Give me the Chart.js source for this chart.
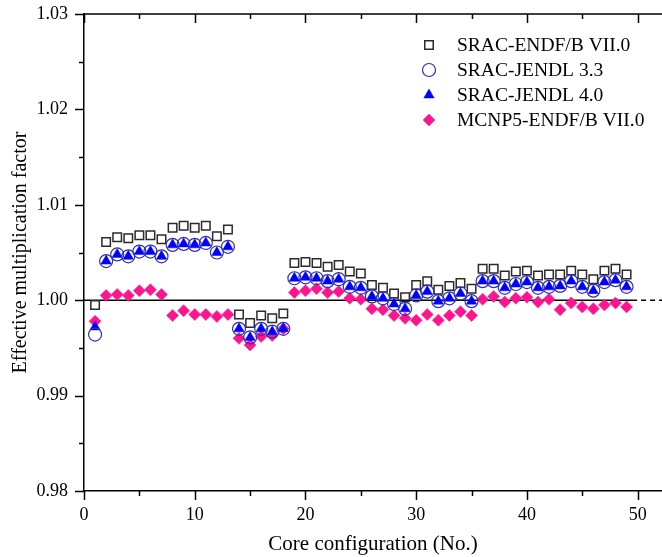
<!DOCTYPE html>
<html lang="en">
<head>
    <meta charset="UTF-8">
    <title>Effective multiplication factor by core configuration</title>
    <script src="https://cdn.jsdelivr.net/npm/chart.js"></script>
    <style>
        body {
            margin: 0;
            background-color: #fff;
        }
        #wrap {
            width: 662px;
            height: 557px;
        }
    </style>
</head>
<body>
    <div id="wrap"><canvas id="kChart" width="662" height="557"></canvas></div>

    <script>
        // core configuration numbers
        const cores = [1, 2, 3, 4, 5, 6, 7, 8, 9, 10, 11, 12, 13, 14, 15, 16, 17, 18, 19, 20,
            21, 22, 23, 24, 25, 26, 27, 28, 29, 30, 31, 32, 33, 34, 35, 36, 37, 38, 39, 40,
            41, 42, 43, 44, 45, 46, 47, 48, 49];

        // keff values
        const sracEndf = [0.9995, 1.0061, 1.0066, 1.0065, 1.0068, 1.0068, 1.0064, 1.0076, 1.0078, 1.0076,
            1.0078, 1.0067, 1.0074, 0.9985, 0.9976, 0.9984, 0.9981, 0.9986, 1.0039, 1.0040,
            1.0039, 1.0035, 1.0037, 1.0030, 1.0028, 1.0016, 1.0013, 1.0007, 1.0003, 1.0016,
            1.0020, 1.0011, 1.0015, 1.0018, 1.0012, 1.0033, 1.0033, 1.0026, 1.0030, 1.0031,
            1.0026, 1.0027, 1.0027, 1.0031, 1.0027, 1.0022, 1.0031, 1.0033, 1.0027];
        const sracJendl33 = [0.9964, 1.0041, 1.0048, 1.0046, 1.0051, 1.0051, 1.0046, 1.0058, 1.0059, 1.0058,
            1.0060, 1.0050, 1.0056, 0.9970, 0.9961, 0.9970, 0.9967, 0.9970, 1.0023, 1.0024,
            1.0023, 1.0020, 1.0022, 1.0014, 1.0013, 1.0004, 1.0002, 0.9996, 0.9991, 1.0005,
            1.0009, 0.9999, 1.0002, 1.0007, 0.9999, 1.0020, 1.0020, 1.0013, 1.0017, 1.0019,
            1.0013, 1.0014, 1.0015, 1.0020, 1.0014, 1.0010, 1.0019, 1.0021, 1.0014];
        const sracJendl40 = [0.9972, 1.0041, 1.0048, 1.0046, 1.0051, 1.0051, 1.0046, 1.0058, 1.0059, 1.0058,
            1.0060, 1.0050, 1.0056, 0.9970, 0.9961, 0.9970, 0.9967, 0.9970, 1.0023, 1.0024,
            1.0023, 1.0020, 1.0022, 1.0014, 1.0013, 1.0004, 1.0002, 0.9996, 0.9991, 1.0005,
            1.0009, 0.9999, 1.0002, 1.0007, 0.9999, 1.0020, 1.0020, 1.0013, 1.0017, 1.0019,
            1.0013, 1.0014, 1.0015, 1.0020, 1.0014, 1.0010, 1.0019, 1.0021, 1.0014];
        const mcnpEndf = [0.9978, 1.0005, 1.0006, 1.0005, 1.0010, 1.0011, 1.0006, 0.9984, 0.9989, 0.9985,
            0.9985, 0.9983, 0.9985, 0.9960, 0.9953, 0.9962, 0.9963, 0.9970, 1.0008, 1.0010,
            1.0012, 1.0008, 1.0009, 1.0002, 1.0001, 0.9991, 0.9990, 0.9984, 0.9981, 0.9979,
            0.9985, 0.9979, 0.9984, 0.9988, 0.9984, 1.0001, 1.0004, 0.9998, 1.0002, 1.0003,
            0.9998, 1.0001, 0.9990, 0.9997, 0.9993, 0.9991, 0.9995, 0.9997, 0.9993];

        const seriesNames = ['SRAC-ENDF/B VII.0', 'SRAC-JENDL 3.3', 'SRAC-JENDL 4.0', 'MCNP5-ENDF/B VII.0'];

        // axis ranges and ticks
        const xMin = 0, xMax = 52.2;
        const yMin = 0.98, yMax = 1.03;
        const xTickValues = [0, 5, 10, 15, 20, 25, 30, 35, 40, 45, 50];
        const yTickValues = [0.98, 0.985, 0.99, 0.995, 1.00, 1.005, 1.01, 1.015, 1.02, 1.025, 1.03];
        const refLevel = 1.00;
        const refSolidEnd = 49.5;

        const serif = 'Liberation Serif, Times New Roman, serif';

        const toPoints = (vals) => vals.map((v, i) => ({ x: cores[i], y: v }));

        // small tick marks on the axes + top frame line
        const axisTicks = {
            id: 'axisTicks',
            afterDatasetsDraw(chart) {
                const { ctx, chartArea: a, scales: { x, y } } = chart;
                ctx.save();
                ctx.strokeStyle = '#000';
                ctx.lineWidth = 1.5;
                ctx.beginPath();
                ctx.moveTo(a.left, a.top);
                ctx.lineTo(a.right, a.top);
                xTickValues.forEach(v => {
                    const px = Math.round(x.getPixelForValue(v)) + 0.5;
                    const len = v % 10 === 0 ? 9 : 5;
                    ctx.moveTo(px, a.bottom);
                    ctx.lineTo(px, a.bottom + len);
                    ctx.moveTo(px, a.top);
                    ctx.lineTo(px, a.top + len);
                });
                yTickValues.forEach((v, i) => {
                    const py = Math.round(y.getPixelForValue(v)) + 0.5;
                    const len = i % 2 === 0 ? 9 : 5;
                    ctx.moveTo(a.left, py);
                    ctx.lineTo(a.left - len, py);
                });
                ctx.stroke();
                ctx.restore();
            }
        };

        // legend inside the plot, top right
        const insideLegend = {
            id: 'insideLegend',
            afterDraw(chart) {
                const { ctx } = chart;
                ctx.save();
                ctx.font = '19.5px ' + serif;
                ctx.textBaseline = 'middle';
                ctx.fillStyle = '#000';
                [0, 1, 2, 3].forEach((idx, row) => {
                    const ds = chart.data.datasets[idx];
                    const cy = 45 + row * 25;
                    ctx.save();
                    ctx.fillStyle = ds.pointBackgroundColor;
                    ctx.strokeStyle = ds.pointBorderColor;
                    ctx.lineWidth = ds.pointBorderWidth;
                    Chart.helpers.drawPoint(ctx, {
                        pointStyle: ds.pointStyle,
                        radius: ds.pointRadius,
                        rotation: 0,
                        borderWidth: ds.pointBorderWidth
                    }, 429, cy);
                    ctx.restore();
                    ctx.fillText(seriesNames[idx], 457, cy + 1);
                });
                ctx.restore();
            }
        };

        const ctx = document.getElementById('kChart').getContext('2d');
        const kChart = new Chart(ctx, {
            type: 'scatter',
            data: {
                datasets: [
                    {
                        label: seriesNames[0],
                        data: toPoints(sracEndf),
                        pointStyle: 'rect',
                        pointRadius: 6,
                        pointBackgroundColor: 'rgba(255,255,255,0)',
                        pointBorderColor: '#2b2b2b',
                        pointBorderWidth: 1.5,
                        order: 3
                    },
                    {
                        label: seriesNames[1],
                        data: toPoints(sracJendl33),
                        pointStyle: 'circle',
                        pointRadius: 6.5,
                        pointBackgroundColor: 'rgba(255,255,255,0)',
                        pointBorderColor: '#3030b0',
                        pointBorderWidth: 1.2,
                        order: 1
                    },
                    {
                        label: seriesNames[2],
                        data: toPoints(sracJendl40),
                        pointStyle: 'triangle',
                        pointRadius: 6,
                        pointBackgroundColor: '#0000ff',
                        pointBorderColor: '#0000ff',
                        pointBorderWidth: 0.5,
                        order: 2
                    },
                    {
                        label: seriesNames[3],
                        data: toPoints(mcnpEndf),
                        pointStyle: 'rectRot',
                        pointRadius: 6,
                        pointBackgroundColor: '#ff1490',
                        pointBorderColor: '#ff1490',
                        pointBorderWidth: 0.5,
                        order: 4
                    },
                    {
                        label: 'ref',
                        type: 'line',
                        data: [{ x: xMin, y: refLevel }, { x: refSolidEnd, y: refLevel }],
                        borderColor: '#000',
                        borderWidth: 1.5,
                        pointRadius: 0,
                        order: 5
                    },
                    {
                        label: 'ref dashed',
                        type: 'line',
                        data: [{ x: refSolidEnd, y: refLevel }, { x: xMax, y: refLevel }],
                        borderColor: '#000',
                        borderWidth: 1.5,
                        borderDash: [5, 4],
                        pointRadius: 0,
                        order: 5
                    }
                ]
            },
            options: {
                responsive: false,
                animation: false,
                devicePixelRatio: 1,
                layout: { autoPadding: false, padding: { top: 14, left: 0, right: 0, bottom: 0 } },
                plugins: {
                    legend: { display: false },
                    tooltip: { enabled: false }
                },
                scales: {
                    x: {
                        type: 'linear',
                        min: xMin,
                        max: xMax,
                        afterFit: (s) => { s.height = 66; s.paddingRight = 0; s.paddingLeft = 0; },
                        border: { display: true, color: '#000', width: 1.5 },
                        grid: { display: false, drawTicks: true, tickLength: 9 },
                        ticks: {
                            stepSize: 10,
                            includeBounds: false,
                            padding: 4,
                            color: '#000',
                            font: { family: serif, size: 18 }
                        },
                        title: {
                            display: true,
                            text: 'Core configuration (No.)',
                            color: '#000',
                            font: { family: serif, size: 21 },
                            padding: { top: 0, bottom: 0 }
                        }
                    },
                    y: {
                        min: yMin,
                        max: yMax,
                        afterFit: (s) => { s.width = 84; s.paddingTop = 0; s.paddingBottom = 0; },
                        border: { display: true, color: '#000', width: 1.5 },
                        grid: { display: false, drawTicks: true, tickLength: 9 },
                        ticks: {
                            stepSize: 0.01,
                            padding: 7,
                            color: '#000',
                            font: { family: serif, size: 18 },
                            callback: (v) => Number(v).toFixed(2)
                        },
                        title: {
                            display: true,
                            text: 'Effective multiplication factor',
                            color: '#000',
                            font: { family: serif, size: 20 },
                            padding: { top: 9, bottom: 0 }
                        }
                    }
                }
            },
            plugins: [axisTicks, insideLegend]
        });
    </script>
</body>
</html>
